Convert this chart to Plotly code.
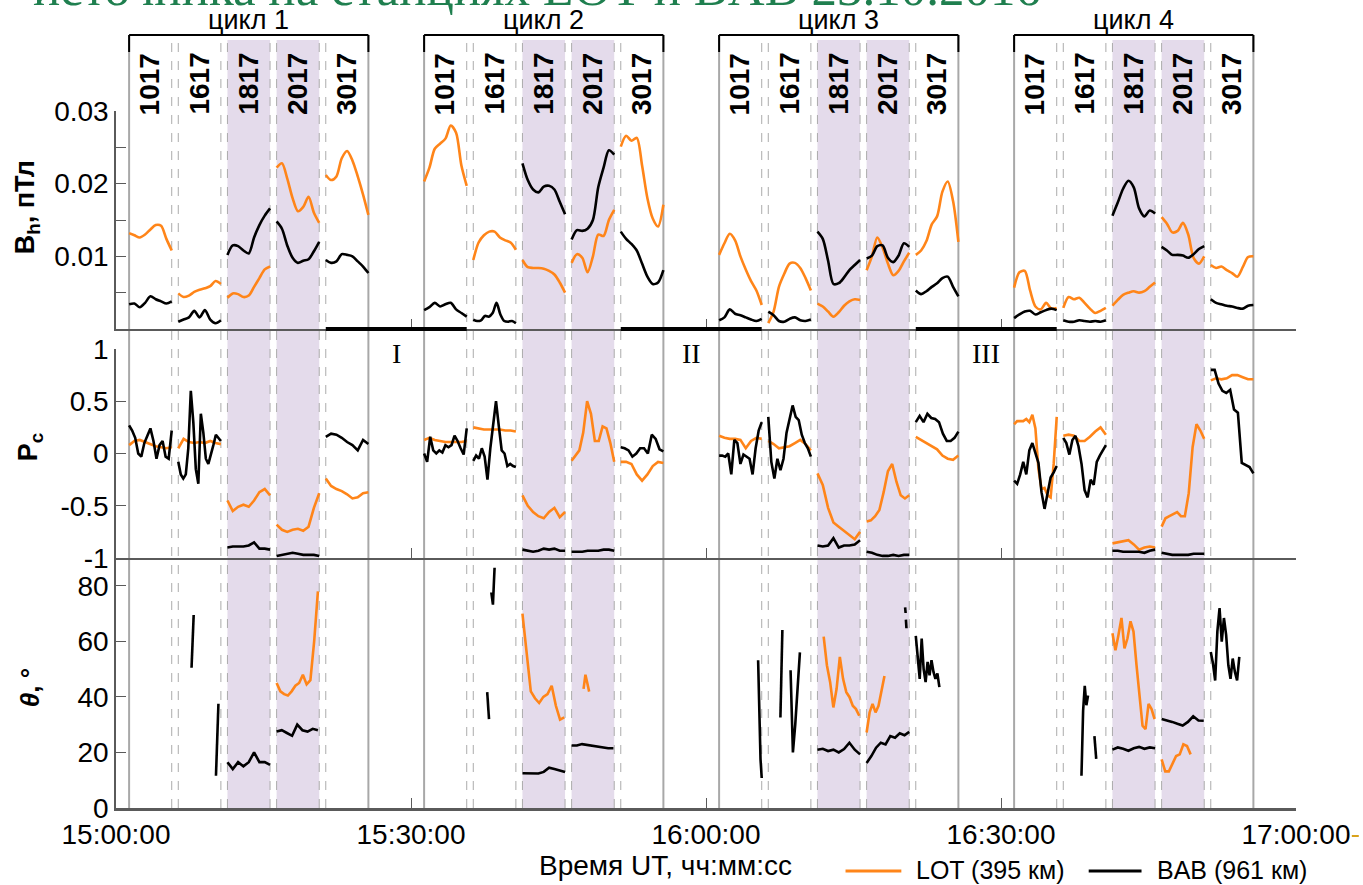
import plotly.graph_objects as go
from datetime import datetime, timedelta

# ---------------------------------------------------------------- time frame
T_START = datetime(2016, 10, 23, 15, 0, 0)
T_END = datetime(2016, 10, 23, 17, 0, 0)
CYCLE_LABELS = ["цикл 1", "цикл 2", "цикл 3", "цикл 4"]
CYCLE_OFFSETS_S = [80, 1880, 3680, 5480]          # cycle starts, s after 15:00:00
SEGMENTS = ["1017", "1617", "1817", "2017", "3017"]
SEGMENT_STEP_S = 300
SEGMENT_LEN_S = 260
SHADED_SEGMENTS = ["1817", "2017"]
INTERVAL_LABELS = ["I", "II", "III"]

# ---------------------------------------------------------------- B_h, pT
BH_LOT_C1 = [
    [0.0132, 0.0129, 0.0126, 0.0130, 0.0137, 0.0143, 0.0142, 0.0124, 0.0108],
    [0.0049, 0.0044, 0.0046, 0.0051, 0.0054, 0.0056, 0.0059, 0.0066, 0.0062],
    [0.0043, 0.0049, 0.0048, 0.0044, 0.0046, 0.0058, 0.0070, 0.0082, 0.0086],
    [0.0222, 0.0228, 0.0207, 0.0180, 0.0162, 0.0168, 0.0182, 0.0160, 0.0146],
    [0.0212, 0.0205, 0.0210, 0.0235, 0.0245, 0.0232, 0.0210, 0.0185, 0.0157],
]
BH_BAB_C1 = [
    [0.0034, 0.0035, 0.0030, 0.0036, 0.0045, 0.0041, 0.0038, 0.0035, 0.0038],
    [0.0010, 0.0013, 0.0016, 0.0025, 0.0016, 0.0026, 0.0013, 0.0008, 0.0012],
    [0.0102, 0.0115, 0.0114, 0.0108, 0.0104, 0.0126, 0.0143, 0.0156, 0.0166],
    [0.0148, 0.0138, 0.0115, 0.0098, 0.0091, 0.0094, 0.0096, 0.0107, 0.0120],
    [0.0095, 0.0091, 0.0093, 0.0103, 0.0102, 0.0100, 0.0093, 0.0086, 0.0077],
]
BH_LOT_C2 = [
    [0.0203, 0.0222, 0.0248, 0.0255, 0.0262, 0.0280, 0.0270, 0.0225, 0.0197],
    [0.0095, 0.0119, 0.0129, 0.0134, 0.0134, 0.0126, 0.0122, 0.0119, 0.0109],
    [0.0095, 0.0085, 0.0084, 0.0084, 0.0083, 0.0080, 0.0075, 0.0064, 0.0050],
    [0.0091, 0.0103, 0.0098, 0.0078, 0.0100, 0.0130, 0.0128, 0.0150, 0.0164],
    [0.0251, 0.0266, 0.0259, 0.0263, 0.0225, 0.0180, 0.0152, 0.0141, 0.0171],
]
BH_BAB_C2 = [
    [0.0026, 0.0030, 0.0036, 0.0031, 0.0034, 0.0036, 0.0027, 0.0022, 0.0017],
    [0.0013, 0.0011, 0.0012, 0.0018, 0.0017, 0.0022, 0.0036, 0.0020, 0.0011, 0.0010, 0.0011, 0.0008],
    [0.0228, 0.0205, 0.0192, 0.0188, 0.0196, 0.0197, 0.0192, 0.0175, 0.0158],
    [0.0123, 0.0136, 0.0135, 0.0138, 0.0150, 0.0195, 0.0222, 0.0246, 0.0240],
    [0.0134, 0.0124, 0.0117, 0.0108, 0.0090, 0.0072, 0.0062, 0.0064, 0.0081],
]
BH_LOT_C3 = [
    [0.0102, 0.0118, 0.0131, 0.0122, 0.0100, 0.0082, 0.0066, 0.0053, 0.0033],
    [0.0008, 0.0024, 0.0058, 0.0076, 0.0090, 0.0091, 0.0084, 0.0070, 0.0053],
    [0.0035, 0.0031, 0.0024, 0.0017, 0.0023, 0.0032, 0.0038, 0.0041, 0.0040],
    [0.0081, 0.0100, 0.0126, 0.0112, 0.0090, 0.0074, 0.0080, 0.0093, 0.0105],
    [0.0102, 0.0108, 0.0121, 0.0144, 0.0155, 0.0189, 0.0203, 0.0176, 0.0120],
]
BH_BAB_C3 = [
    [0.0012, 0.0016, 0.0027, 0.0021, 0.0019, 0.0016, 0.0013, 0.0011, 0.0014],
    [0.0024, 0.0019, 0.0011, 0.0010, 0.0014, 0.0016, 0.0012, 0.0011, 0.0013],
    [0.0134, 0.0124, 0.0094, 0.0062, 0.0063, 0.0071, 0.0081, 0.0088, 0.0095],
    [0.0097, 0.0101, 0.0114, 0.0115, 0.0098, 0.0092, 0.0101, 0.0118, 0.0113],
    [0.0053, 0.0048, 0.0052, 0.0058, 0.0063, 0.0070, 0.0072, 0.0058, 0.0045],
]
BH_LOT_C4 = [
    [0.0057, 0.0078, 0.0080, 0.0053, 0.0031, 0.0027, 0.0036, 0.0028, 0.0029],
    [0.0029, 0.0044, 0.0041, 0.0043, 0.0036, 0.0028, 0.0022, 0.0025, 0.0029],
    [0.0032, 0.0040, 0.0047, 0.0050, 0.0052, 0.0050, 0.0052, 0.0058, 0.0064],
    [0.0154, 0.0145, 0.0133, 0.0135, 0.0146, 0.0130, 0.0098, 0.0090, 0.0100],
    [0.0088, 0.0084, 0.0086, 0.0081, 0.0077, 0.0072, 0.0085, 0.0099, 0.0100],
]
BH_BAB_C4 = [
    [0.0015, 0.0020, 0.0024, 0.0025, 0.0020, 0.0023, 0.0026, 0.0028, 0.0026],
    [0.0012, 0.0010, 0.0010, 0.0012, 0.0011, 0.0010, 0.0011, 0.0010, 0.0012],
    [0.0156, 0.0174, 0.0193, 0.0204, 0.0195, 0.0166, 0.0155, 0.0163, 0.0159],
    [0.0113, 0.0108, 0.0102, 0.0102, 0.0101, 0.0098, 0.0103, 0.0110, 0.0114],
    [0.0041, 0.0036, 0.0034, 0.0032, 0.0031, 0.0029, 0.0028, 0.0032, 0.0033],
]

# ---------------------------------------------------------------- P_c
PC_LOT_C1 = [
    [0.08, 0.12, 0.13, 0.11, 0.09, 0.07, 0.06, 0.05, 0.06],
    [0.05, 0.14, 0.11, 0.10, 0.11, 0.10, 0.12, 0.10, 0.09],
    [-0.45, -0.55, -0.51, -0.49, -0.51, -0.45, -0.37, -0.34, -0.40],
    [-0.68, -0.73, -0.75, -0.73, -0.72, -0.74, -0.70, -0.52, -0.38],
    [-0.24, -0.31, -0.34, -0.36, -0.39, -0.43, -0.42, -0.38, -0.37],
]
PC_BAB_C1 = [
    [0.27, 0.22, 0.15, 0.0, -0.03, 0.10, 0.17, 0.24, 0.12, -0.05, 0.08, 0.12, -0.03, -0.05, 0.22],
    [-0.08, -0.20, -0.24, -0.20, 0.05, 0.60, 0.30, -0.15, -0.29, 0.38, 0.20, -0.05, -0.10,
     -0.02, 0.08, 0.18, 0.15, 0.12],
    [-0.90, -0.89, -0.89, -0.89, -0.88, -0.85, -0.91, -0.91, -0.92],
    [-0.98, -0.97, -0.96, -0.95, -0.96, -0.97, -0.97, -0.97, -0.98],
    [0.16, 0.19, 0.18, 0.15, 0.11, 0.08, 0.03, 0.13, 0.09],
]
PC_LOT_C2 = [
    [0.13, 0.15, 0.13, 0.12, 0.11, 0.11, 0.11, 0.11, 0.12],
    [0.25, 0.24, 0.23, 0.23, 0.23, 0.23, 0.22, 0.22, 0.21],
    [-0.40, -0.50, -0.56, -0.60, -0.62, -0.56, -0.52, -0.61, -0.56],
    [-0.07, -0.02, 0.03, 0.20, 0.50, 0.38, 0.12, 0.12, 0.26, 0.24, 0.10, -0.08],
    [-0.08, -0.08, -0.10, -0.20, -0.26, -0.20, -0.12, -0.08, -0.09],
]
PC_BAB_C2 = [
    [0.0, -0.08, 0.16, 0.03, 0.0, 0.03, 0.01, 0.08, 0.06, 0.08, 0.17, 0.12, 0.05, -0.01, 0.24],
    [-0.07, -0.02, -0.05, 0.05, -0.03, -0.25, 0.05, 0.30, 0.50, 0.26, 0.03, 0.0, -0.12,
     -0.10, -0.12, -0.13],
    [-0.92, -0.93, -0.94, -0.93, -0.91, -0.92, -0.91, -0.93, -0.93],
    [-0.94, -0.94, -0.94, -0.93, -0.93, -0.93, -0.92, -0.92, -0.93],
    [0.06, 0.05, 0.03, -0.03, 0.0, 0.05, 0.05, 0.0, 0.18, 0.14, 0.04, 0.02],
]
PC_LOT_C3 = [
    [0.17, 0.15, 0.14, 0.14, 0.13, 0.05, 0.12, 0.15, 0.14],
    [0.12, 0.09, 0.05, 0.06, 0.07, 0.10, 0.13, 0.09, 0.03],
    [-0.19, -0.30, -0.52, -0.66, -0.70, -0.74, -0.78, -0.82, -0.75],
    [-0.65, -0.64, -0.60, -0.54, -0.37, -0.17, -0.10, -0.27, -0.40, -0.43, -0.40],
    [0.16, 0.13, 0.10, 0.07, 0.04, -0.02, -0.05, -0.06, -0.02],
]
PC_BAB_C3 = [
    [-0.02, -0.02, -0.03, 0.0, -0.20, 0.13, 0.10, -0.10, -0.01, -0.03, -0.05, -0.20, 0.05, 0.22, 0.30],
    [0.35, -0.08, -0.24, -0.05, -0.16, -0.05, 0.20, 0.32, 0.46, 0.35, 0.32, 0.18, 0.10, 0.05, -0.03],
    [-0.88, -0.89, -0.88, -0.81, -0.90, -0.88, -0.88, -0.87, -0.83],
    [-0.94, -0.95, -0.97, -0.98, -0.98, -0.97, -0.98, -0.97, -0.97],
    [0.30, 0.36, 0.30, 0.38, 0.34, 0.33, 0.30, 0.19, 0.12, 0.12, 0.15, 0.21],
]
PC_LOT_C4 = [
    [0.28, 0.31, 0.31, 0.31, 0.33, 0.30, 0.37, 0.24, -0.15, -0.34, -0.33, -0.40, -0.42, -0.10, 0.35],
    [0.17, 0.18, 0.17, 0.12, 0.12, 0.16, 0.21, 0.25, 0.18],
    [-0.86, -0.85, -0.84, -0.83, -0.87, -0.92, -0.90, -0.89, -0.90],
    [-0.70, -0.62, -0.60, -0.58, -0.56, -0.60, -0.60, -0.38, 0.06, 0.28, 0.22, 0.14],
    [0.70, 0.72, 0.71, 0.72, 0.75, 0.75, 0.73, 0.71, 0.71],
]
PC_BAB_C4 = [
    [-0.26, -0.29, -0.20, -0.08, -0.20, 0.03, 0.10, 0.0, -0.09, -0.37, -0.53, -0.38, -0.23, -0.18, -0.12],
    [0.15, 0.10, -0.01, 0.13, 0.17, 0.07, -0.10, -0.35, -0.42, -0.25, -0.30, -0.08, -0.02, 0.03, 0.08],
    [-0.93, -0.93, -0.94, -0.94, -0.94, -0.94, -0.95, -0.93, -0.92],
    [-0.95, -0.96, -0.97, -0.97, -0.97, -0.97, -0.96, -0.96, -0.96],
    [0.80, 0.80, 0.67, 0.60, 0.58, 0.61, 0.42, 0.39, -0.09, -0.11, -0.13, -0.19],
]

# ---------------------------------------------------------------- theta, deg
# pieces: (segment, first second, last second within the segment, values)
TH_LOT_C1 = [("2017", 0, 252, [45, 42, 41, 40.5, 42, 44, 45, 48, 44.5, 46, 60, 78])]
TH_LOT_C2 = [("1817", 0, 255, [70, 55, 42, 39.5, 37.8, 40, 41, 44, 36.8, 31.8, 32.6]),
             ("2017", 73, 107, [42.9, 48, 45, 41.9])]
TH_LOT_C3 = [("1817", 38, 255, [61.7, 51.4, 45.3, 36.2, 42.9, 54.4, 46.5, 41.7, 39.9, 36.8, 35.6, 33.2]),
             ("2017", 0, 109, [27.2, 34.4, 37.5, 34.4, 36.8, 42.9, 47.5])]
TH_LOT_C4 = [("1817", 0, 257, [62.9, 56.8, 62.3, 68.4, 57.5, 61.1, 67.2, 63.5, 51.4, 39.3, 29.6,
                               28.4, 37.5, 35.6, 32]),
             ("2017", 0, 177, [17.5, 13.2, 13.2, 16.2, 18.7, 19.3, 22.9, 22.3, 19.3])]
TH_BAB_C1 = [("1617", 81, 94, [50.5, 60, 69.5]),
             ("1617", 230, 245, [11.6, 25, 37.5]),
             ("1817", 0, 260, [16.5, 14, 16.5, 15, 16.5, 20, 16.5, 16.5, 15.5]),
             ("2017", 0, 252, [27.5, 28, 27, 26, 30, 28, 27.5, 28.5, 28])]
TH_BAB_C2 = [("1617", 85, 96, [41.7, 37, 32]),
             ("1617", 110, 130, [77.6, 73.8, 73.2, 80, 86.5]),
             ("1817", 0, 260, [12.5, 12.5, 12.5, 12.4, 13.0, 14.5, 14.0, 13.5, 13.0]),
             ("2017", 0, 255, [22.5, 22.5, 23.0, 22.7, 22.3, 22.0, 21.6, 21.5, 21.5])]
TH_BAB_C3 = [("1017", 238, 260, [53.2, 33.2, 17.5, 10.8]),
             ("1617", 74, 86, [32.6, 48, 64.1]),
             ("1617", 136, 193, [49.6, 20, 30, 43, 56]),
             ("1817", 0, 260, [21, 21.3, 20.5, 21, 20, 21.2, 23.5, 21, 19.3]),
             ("2017", 0, 260, [16.2, 18.7, 21.7, 23.5, 22.9, 25.9, 25.3, 26.9, 26.2, 27.4]),
             ("2017", 235, 238, [72.2, 70.2]),
             ("2017", 240, 243, [67.8, 64.7]),
             ("3017", 0, 144, [62, 53.8, 46.5, 61, 50, 45.3, 52.6, 47.8, 53.2, 49, 46.5, 48.4, 43.5])]
TH_BAB_C4 = [("1617", 111, 151, [11.6, 35, 44, 37, 40.5]),
             ("1617", 190, 201, [25.9, 17.7]),
             ("1817", 0, 260, [21, 21.8, 21.3, 20.6, 21.5, 22, 21.3, 21.8, 21.5]),
             ("2017", 0, 257, [32, 31.6, 31, 30.3, 29.7, 31, 33, 31.5, 31.4]),
             ("3017", 0, 174, [56.2, 52, 45.9, 63.5, 72, 59.9, 68.4, 62.3, 51.4, 46.5, 53.8, 49,
                               45.9, 54.4])]

STATIONS = ["LOT (395 км)", "BAB (961 км)"]
ORANGE = "#ff8519"
BLACK = "#000000"


def seg_start(cycle, seg):
    return T_START + timedelta(seconds=CYCLE_OFFSETS_S[cycle] + SEGMENTS.index(seg) * SEGMENT_STEP_S)


def add_piece(xs, ys, cycle, seg, s0, s1, vals):
    t0 = seg_start(cycle, seg)
    n = len(vals)
    for i, v in enumerate(vals):
        xs.append(t0 + timedelta(seconds=s0 + (s1 - s0) * i / (n - 1)))
        ys.append(v)
    xs.append(None)
    ys.append(None)


def full_segments(cycles):
    xs, ys = [], []
    for c, segs in enumerate(cycles):
        for k, vals in enumerate(segs):
            if vals:
                add_piece(xs, ys, c, SEGMENTS[k], 0, SEGMENT_LEN_S, vals)
    return xs, ys


def pieces(cycles):
    xs, ys = [], []
    for c, plist in enumerate(cycles):
        for seg, s0, s1, vals in plist:
            add_piece(xs, ys, c, seg, s0, s1, vals)
    return xs, ys


# ---------------------------------------------------------------- layout geometry (px)
W, H = 1363, 885
X_LEFT, X_RIGHT = 116, 1300
Y_TOP, Y_BOTTOM = 35, 808


def py(p):
    return (Y_BOTTOM - p) / (Y_BOTTOM - Y_TOP)


def pxx(p):
    return (p - X_LEFT) / (X_RIGHT - X_LEFT)


fig = go.Figure()

panels = [
    ("y3", "x3", full_segments([BH_LOT_C1, BH_LOT_C2, BH_LOT_C3, BH_LOT_C4]),
     full_segments([BH_BAB_C1, BH_BAB_C2, BH_BAB_C3, BH_BAB_C4]), "spline"),
    ("y2", "x2", full_segments([PC_LOT_C1, PC_LOT_C2, PC_LOT_C3, PC_LOT_C4]),
     full_segments([PC_BAB_C1, PC_BAB_C2, PC_BAB_C3, PC_BAB_C4]), "linear"),
    ("y", "x", pieces([TH_LOT_C1, TH_LOT_C2, TH_LOT_C3, TH_LOT_C4]),
     pieces([TH_BAB_C1, TH_BAB_C2, TH_BAB_C3, TH_BAB_C4]), "linear"),
]
for yref, xref, lot, bab, shape in panels:
    for (xs, ys), color, name in ((lot, ORANGE, STATIONS[0]), (bab, BLACK, STATIONS[1])):
        fig.add_trace(go.Scatter(x=xs, y=ys, mode="lines", name=name,
                                 line=dict(color=color, width=2.6, shape=shape, smoothing=0.8),
                                 xaxis=xref, yaxis=yref, showlegend=False, connectgaps=False))

SANS = "Liberation Sans, Arial, sans-serif"
SERIF = "Liberation Serif, Times New Roman, serif"
AX_COLOR = "#5a5a5a"
TICK_FONT = dict(family=SANS, size=28, color="black")

xcommon = dict(type="date", range=[T_START, T_END], showgrid=False, zeroline=False,
               showline=True, linecolor=AX_COLOR, linewidth=2, ticks="inside", ticklen=10,
               tickcolor=AX_COLOR, tick0=T_START, dtick=30 * 60 * 1000, tickformat="%H:%M:%S",
               domain=[0, 1])
ycommon = dict(showgrid=False, zeroline=False, showline=True, linecolor=AX_COLOR, linewidth=1.5,
               ticks="inside", ticklen=10, tickcolor=AX_COLOR, tickfont=TICK_FONT)

fig.update_layout(
    width=W, height=H,
    margin=dict(l=X_LEFT, r=W - X_RIGHT, t=Y_TOP, b=H - Y_BOTTOM),
    paper_bgcolor="white", plot_bgcolor="rgba(0,0,0,0)",
    showlegend=False,
    xaxis=dict(xcommon, anchor="y", tickfont=TICK_FONT, linewidth=2.5),
    xaxis2=dict(xcommon, anchor="y2", matches="x", showticklabels=False),
    xaxis3=dict(xcommon, anchor="y3", matches="x", showticklabels=False),
    yaxis=dict(ycommon, anchor="x", domain=[0, py(558)], range=[0, 90],
               tickvals=[0, 20, 40, 60, 80]),
    yaxis2=dict(ycommon, anchor="x2", domain=[py(558), py(349)], range=[-1, 1],
                tickvals=[-1, -0.5, 0, 0.5, 1], ticktext=["-1", "-0.5", "0", "0.5", "1"]),
    yaxis3=dict(ycommon, anchor="x3", domain=[py(329), py(111)], range=[0, 0.03],
                tickvals=[0.01, 0.02, 0.03], ticktext=["0.01", "0.02", "0.03"],
                minor=dict(dtick=0.005, tick0=0, ticks="inside", ticklen=10,
                           tickcolor=AX_COLOR, showgrid=False)),
)

shapes = []
annotations = []
SHADE = "#e4dbeb"
SOLID = "#a8a8a8"
DASH = "#ababab"


def note(x, y, text, font, xref="paper", angle=0, xanchor="center"):
    annotations.append(dict(x=x, y=y, xref=xref, yref="paper", text=text, textangle=angle,
                            showarrow=False, xanchor=xanchor, yanchor="middle", font=font))


for c in range(4):
    for k, seg in enumerate(SEGMENTS):
        if seg in SHADED_SEGMENTS:
            s = seg_start(c, seg)
            shapes.append(dict(type="rect", xref="x", yref="paper", x0=s,
                               x1=s + timedelta(seconds=SEGMENT_LEN_S), y0=0, y1=py(40),
                               fillcolor=SHADE, line=dict(width=0), layer="below"))

for c in range(4):
    cs = seg_start(c, SEGMENTS[0])
    ce = seg_start(c, SEGMENTS[-1]) + timedelta(seconds=SEGMENT_LEN_S)
    for t in (cs, ce):
        shapes.append(dict(type="line", xref="x", yref="paper", x0=t, x1=t, y0=0, y1=1,
                           line=dict(color=SOLID, width=2), layer="below"))
        shapes.append(dict(type="line", xref="x", yref="paper", x0=t, x1=t, y0=1, y1=py(52),
                           line=dict(color="black", width=2)))
    shapes.append(dict(type="line", xref="x", yref="paper", x0=cs, x1=ce, y0=1, y1=1,
                       line=dict(color="black", width=2)))
    for k, seg in enumerate(SEGMENTS):
        s = seg_start(c, seg)
        e = s + timedelta(seconds=SEGMENT_LEN_S)
        if k > 0:
            shapes.append(dict(type="line", xref="x", yref="paper", x0=s, x1=s, y0=0, y1=py(40),
                               line=dict(color=DASH, width=1, dash="dash"), layer="below"))
        if k < len(SEGMENTS) - 1:
            shapes.append(dict(type="line", xref="x", yref="paper", x0=e, x1=e, y0=0, y1=py(40),
                               line=dict(color=DASH, width=1, dash="dash"), layer="below"))
        note(s + timedelta(seconds=SEGMENT_LEN_S / 2), py(84), f"<b>{seg}</b>",
             dict(family=SANS, size=28, color="black"), xref="x", angle=-90)
    note(cs + (ce - cs) / 2, py(20), CYCLE_LABELS[c], dict(family=SANS, size=27, color="black"),
         xref="x")

for k, lab in enumerate(INTERVAL_LABELS):
    a = seg_start(k, "3017")
    b = seg_start(k + 1, "1017") + timedelta(seconds=SEGMENT_LEN_S)
    shapes.append(dict(type="line", xref="x", yref="paper", x0=a, x1=b, y0=py(329), y1=py(329),
                       line=dict(color="black", width=4)))
    note(a + (b - a) / 2, py(353), lab, dict(family=SERIF, size=28, color="black"), xref="x")

# axis titles and caption
note(pxx(27), py(207), "<b>B<sub>h</sub>, пТл</b>", dict(family=SANS, size=27, color="black"),
     angle=-90)
note(pxx(30), py(447), "<b>P<sub>c</sub></b>", dict(family=SANS, size=27, color="black"),
     angle=-90)
note(pxx(30), py(688), "<b><i>θ</i>, °</b>", dict(family=SANS, size=26, color="black"), angle=-90)
note(pxx(667), py(865), "Время UT, чч:мм:сс", dict(family=SANS, size=28, color="black"))
note(pxx(538), py(-12), "источника на станциях LOT и BAB 23.10.2016",
     dict(family=SERIF, size=51, color="#1f7f4f"))

# legend
for (x0, x1, tx, color, name) in [(848, 904, 917, ORANGE, STATIONS[0]),
                                  (1092, 1145, 1159, BLACK, STATIONS[1])]:
    shapes.append(dict(type="line", xref="paper", yref="paper", x0=pxx(x0), x1=pxx(x1),
                       y0=py(871), y1=py(871), line=dict(color=color, width=3)))
    note(pxx(tx), py(870), name, dict(family=SANS, size=25, color="black"), xanchor="left")

shapes.append(dict(type="line", xref="paper", yref="paper", x0=pxx(1356), x1=pxx(1363),
                   y0=py(836), y1=py(836), line=dict(color="#d9a21b", width=2)))

fig.update_layout(shapes=shapes, annotations=annotations)
fig.write_html("out.html")
